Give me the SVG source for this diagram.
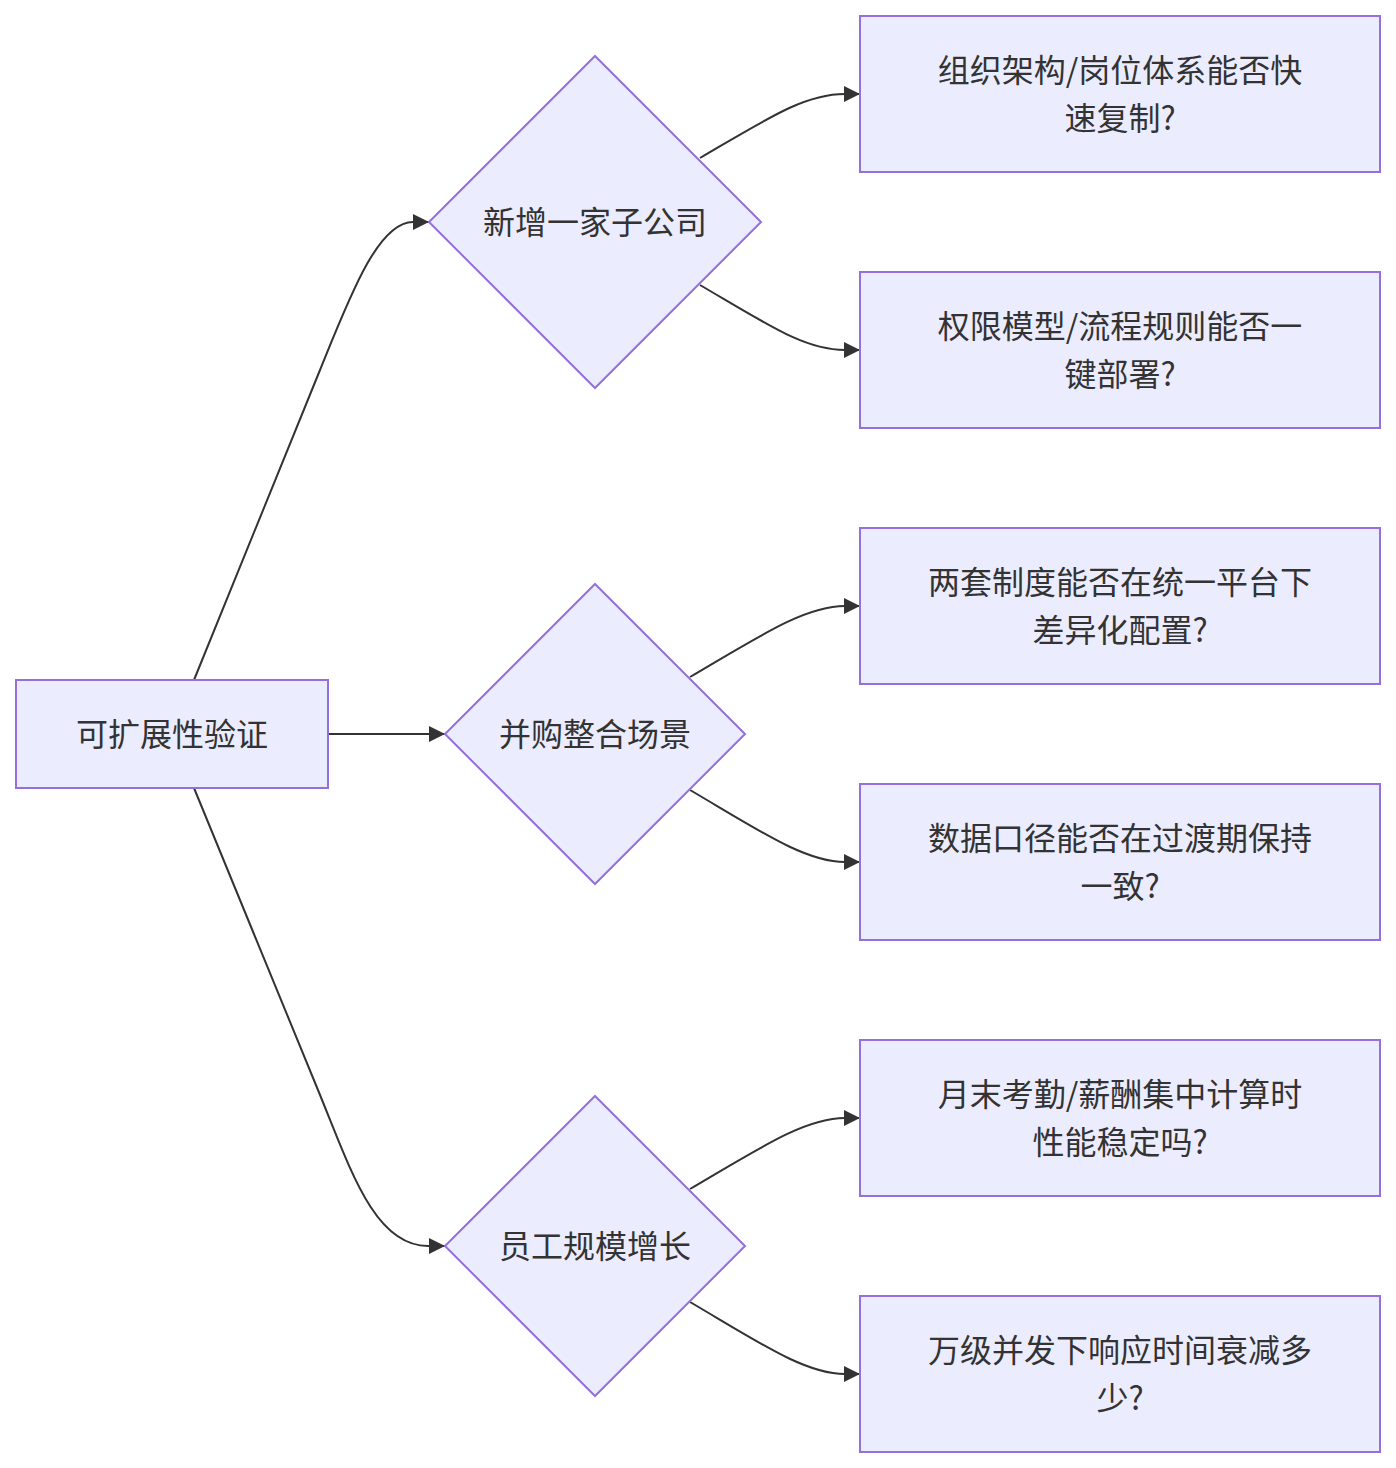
<svg xmlns="http://www.w3.org/2000/svg" width="1396" height="1468" viewBox="0 0 1396 1468">
<style>
.n{fill:#ECECFF;stroke:#9370DB;stroke-width:2}
.t{font-family:"Noto Sans CJK SC","Noto Sans",sans-serif;font-size:32px;fill:#333;text-anchor:middle;dominant-baseline:central}
.e{fill:none;stroke:#333;stroke-width:2}
</style>
<defs>
<marker id="a" viewBox="0 0 16 16" refX="16" refY="8" markerWidth="16" markerHeight="16" markerUnits="userSpaceOnUse" orient="auto">
<path d="M0,0L16,8L0,16z" fill="#333"/>
</marker>
</defs>
<rect width="1396" height="1468" fill="#fff"/>
<g id="edges">
<path class="e" marker-end="url(#a)" d="M194,680 L320,370 C350,296 378,222 413,222 L429,222"/>
<path class="e" marker-end="url(#a)" d="M328,734 L445,734"/>
<path class="e" marker-end="url(#a)" d="M194,788 L318,1090 C350,1168 374,1246 428,1246 L445,1246"/>
<path class="e" marker-end="url(#a)" d="M700,158 C770,117 805,94 845,94 L860,94"/>
<path class="e" marker-end="url(#a)" d="M700,285 C770,326 805,350 845,350 L860,350"/>
<path class="e" marker-end="url(#a)" d="M690,677 C760,636 805,606 845,606 L860,606"/>
<path class="e" marker-end="url(#a)" d="M690,790 C760,831 805,862 845,862 L860,862"/>
<path class="e" marker-end="url(#a)" d="M690,1189 C760,1148 805,1118 845,1118 L860,1118"/>
<path class="e" marker-end="url(#a)" d="M690,1302 C760,1343 805,1374 845,1374 L860,1374"/>
</g>
<g id="root"><rect class="n" x="16" y="680" width="312" height="108"/><text class="t" x="172" y="732">可扩展性验证</text></g>
<g id="d1"><polygon class="n" points="595,56 761,222 595,388 429,222"/><text class="t" x="595" y="220">新增一家子公司</text></g>
<g id="d2"><polygon class="n" points="595,584 745,734 595,884 445,734"/><text class="t" x="595" y="732">并购整合场景</text></g>
<g id="d3"><polygon class="n" points="595,1096 745,1246 595,1396 445,1246"/><text class="t" x="595" y="1244">员工规模增长</text></g>
<g id="r1"><rect class="n" x="860" y="16" width="520" height="156"/><text class="t" x="1120" y="68">组织架构/岗位体系能否快</text><text class="t" x="1120" y="116">速复制?</text></g>
<g id="r2"><rect class="n" x="860" y="272" width="520" height="156"/><text class="t" x="1120" y="324">权限模型/流程规则能否一</text><text class="t" x="1120" y="372">键部署?</text></g>
<g id="r3"><rect class="n" x="860" y="528" width="520" height="156"/><text class="t" x="1120" y="580">两套制度能否在统一平台下</text><text class="t" x="1120" y="628">差异化配置?</text></g>
<g id="r4"><rect class="n" x="860" y="784" width="520" height="156"/><text class="t" x="1120" y="836">数据口径能否在过渡期保持</text><text class="t" x="1120" y="884">一致?</text></g>
<g id="r5"><rect class="n" x="860" y="1040" width="520" height="156"/><text class="t" x="1120" y="1092">月末考勤/薪酬集中计算时</text><text class="t" x="1120" y="1140">性能稳定吗?</text></g>
<g id="r6"><rect class="n" x="860" y="1296" width="520" height="156"/><text class="t" x="1120" y="1348">万级并发下响应时间衰减多</text><text class="t" x="1120" y="1396">少?</text></g>
</svg>
